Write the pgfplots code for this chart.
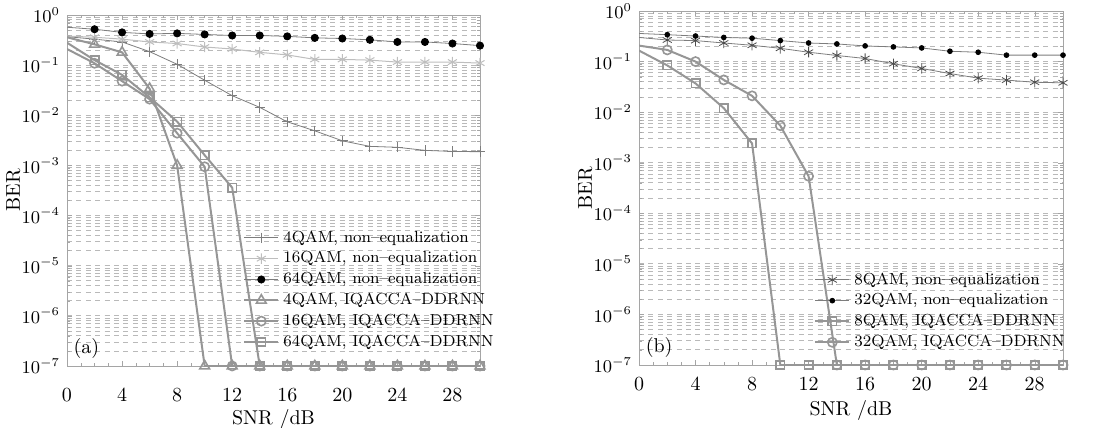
\documentclass[border=0pt]{standalone}
\usepackage{pgfplots}
\pgfplotsset{compat=1.18}
\definecolor{eqgray}{RGB}{150,150,150}
\definecolor{gridgray}{RGB}{185,185,185}
\definecolor{framegray}{RGB}{165,165,165}
\definecolor{midgray}{RGB}{125,125,125}
\definecolor{palegray}{RGB}{190,190,190}
\begin{document}
\begin{tikzpicture}
\useasboundingbox (0,0) rectangle (549pt,214pt);
% ---------- (a) ----------
\begin{axis}[scale only axis, ymode=log,
  at={(33.5pt,31pt)}, anchor=south west,
  width=206.5pt, height=175.5pt,
  xmin=0, xmax=30, ymin=1e-7, ymax=1,
  xtick={0,4,...,28}, minor x tick num=3,
  ytick={1e-7,1e-6,1e-5,1e-4,1e-3,1e-2,1e-1,1},
  ymajorgrids, yminorgrids,
  major grid style={gridgray, dash pattern=on 2.5pt off 2.2pt},
  minor grid style={gridgray, dash pattern=on 2.5pt off 2.2pt},
  axis line style={framegray}, tick style={framegray},
  major tick length=2.5pt, minor tick length=1.5pt,
  xlabel={SNR /dB}, ylabel={BER},
  ylabel style={at={(rel axis cs:-0.13,0.5)}, anchor=center},
  xlabel style={yshift=3pt},
  xticklabel style={yshift=-8pt},
  yticklabel style={font=\small},
  legend cell align=left,
  legend image post style={mark indices={2}},
  legend style={draw=none, fill=none, font=\footnotesize,
    at={(1,0.024)}, anchor=south east, xshift=12pt, row sep=-0.8pt}]
\addplot[midgray, line width=0.4pt, mark=+, mark size=2.6pt, mark indices={2,...,16}]
  coordinates {(0,0.37)(2,0.33)(4,0.29)(6,0.186)(8,0.104)(10,0.05)(12,0.0246)(14,0.0144)(16,0.0074)(18,0.0049)(20,0.0031)(22,0.0024)(24,0.0023)(26,0.0020)(28,0.0019)(30,0.00188)};
\addplot[palegray, line width=0.5pt, mark=asterisk, mark size=2.6pt, mark indices={2,...,16}]
  coordinates {(0,0.38)(2,0.36)(4,0.33)(6,0.29)(8,0.27)(10,0.23)(12,0.21)(14,0.18)(16,0.16)(18,0.13)(20,0.13)(22,0.126)(24,0.115)(26,0.115)(28,0.115)(30,0.11)};
\addplot[midgray, line width=0.4pt, mark=*, mark size=1.8pt, mark options={black}, mark indices={2,...,16}]
  coordinates {(0,0.57)(2,0.52)(4,0.45)(6,0.42)(8,0.43)(10,0.41)(12,0.39)(14,0.39)(16,0.375)(18,0.35)(20,0.34)(22,0.32)(24,0.29)(26,0.29)(28,0.27)(30,0.245)};
\addplot[eqgray, line width=1pt, mark=triangle, mark size=2.8pt, mark options={solid, line width=0.8pt}, mark indices={2,...,16}]
  coordinates {(0,0.36)(2,0.26)(4,0.18)(6,0.034)(8,0.001)(10,1e-7)(12,1e-7)(14,1e-7)(16,1e-7)(18,1e-7)(20,1e-7)(22,1e-7)(24,1e-7)(26,1e-7)(28,1e-7)(30,1e-7)};
\addplot[eqgray, line width=1pt, mark=o, mark size=2.3pt, mark options={solid, line width=0.8pt}, mark indices={2,...,16}]
  coordinates {(0,0.21)(2,0.109)(4,0.048)(6,0.021)(8,0.0044)(10,0.00094)(12,1e-7)(14,1e-7)(16,1e-7)(18,1e-7)(20,1e-7)(22,1e-7)(24,1e-7)(26,1e-7)(28,1e-7)(30,1e-7)};
\addplot[eqgray, line width=1pt, mark=square, mark size=2.1pt, mark options={solid, line width=0.8pt}, mark indices={2,...,16}]
  coordinates {(0,0.28)(2,0.126)(4,0.064)(6,0.0228)(8,0.0075)(10,0.0016)(12,0.00036)(14,1e-7)(16,1e-7)(18,1e-7)(20,1e-7)(22,1e-7)(24,1e-7)(26,1e-7)(28,1e-7)(30,1e-7)};
\legend{4QAM{,} non--equalization, 16QAM{,} non--equalization, 64QAM{,} non--equalization,
  4QAM{,} IQACCA--DDRNN, 16QAM{,} IQACCA--DDRNN, 64QAM{,} IQACCA--DDRNN}
\node[anchor=south west, inner sep=0pt] at (rel axis cs:0.015,0.02) {(a)};
\end{axis}
% ---------- (b) ----------
\begin{axis}[scale only axis, ymode=log,
  at={(319.5pt,31.5pt)}, anchor=south west,
  width=212pt, height=177pt,
  xmin=0, xmax=30, ymin=1e-7, ymax=1,
  xtick={0,4,...,28}, minor x tick num=3,
  ytick={1e-7,1e-6,1e-5,1e-4,1e-3,1e-2,1e-1,1},
  ymajorgrids, yminorgrids,
  major grid style={gridgray, dash pattern=on 2.5pt off 2.2pt},
  minor grid style={gridgray, dash pattern=on 2.5pt off 2.2pt},
  axis line style={framegray}, tick style={framegray},
  major tick length=2.5pt, minor tick length=1.5pt,
  xlabel={SNR /dB}, ylabel={BER},
  ylabel style={at={(rel axis cs:-0.127,0.5)}, anchor=center},
  xlabel style={yshift=2pt},
  xticklabel style={yshift=-3pt},
  yticklabel style={font=\small},
  legend cell align=left,
  legend image post style={mark indices={2}},
  legend style={draw=none, fill=none, font=\footnotesize,
    at={(1,0.02)}, anchor=south east, xshift=6pt, row sep=-0.8pt}]
\addplot[midgray, line width=0.4pt, mark=asterisk, mark size=2.6pt, mark options={black!70}, mark indices={2,...,16}]
  coordinates {(0,0.30)(2,0.267)(4,0.26)(6,0.233)(8,0.21)(10,0.183)(12,0.153)(14,0.132)(16,0.115)(18,0.0906)(20,0.073)(22,0.058)(24,0.047)(26,0.043)(28,0.039)(30,0.038)};
\addplot[midgray, line width=0.4pt, mark=*, mark size=1.2pt, mark options={black}, mark indices={2,...,16}]
  coordinates {(0,0.36)(2,0.34)(4,0.32)(6,0.30)(8,0.29)(10,0.26)(12,0.233)(14,0.223)(16,0.204)(18,0.195)(20,0.186)(22,0.16)(24,0.153)(26,0.134)(28,0.134)(30,0.134)};
\addplot[eqgray, line width=1pt, mark=square, mark size=2.1pt, mark options={solid, line width=0.8pt}, mark indices={2,...,16}]
  coordinates {(0,0.165)(2,0.084)(4,0.037)(6,0.012)(8,0.0024)(10,1e-7)(12,1e-7)(14,1e-7)(16,1e-7)(18,1e-7)(20,1e-7)(22,1e-7)(24,1e-7)(26,1e-7)(28,1e-7)(30,1e-7)};
\addplot[eqgray, line width=1pt, mark=o, mark size=2.3pt, mark options={solid, line width=0.8pt}, mark indices={2,...,16}]
  coordinates {(0,0.207)(2,0.17)(4,0.1)(6,0.0434)(8,0.021)(10,0.0054)(12,0.00054)(14,1e-7)(16,1e-7)(18,1e-7)(20,1e-7)(22,1e-7)(24,1e-7)(26,1e-7)(28,1e-7)(30,1e-7)};
\legend{8QAM{,} non--equalization, 32QAM{,} non--equalization,
  8QAM{,} IQACCA--DDRNN, 32QAM{,} IQACCA--DDRNN}
\node[anchor=south west, inner sep=0pt] at (rel axis cs:0.015,0.02) {(b)};
\end{axis}
\end{tikzpicture}
\end{document}
